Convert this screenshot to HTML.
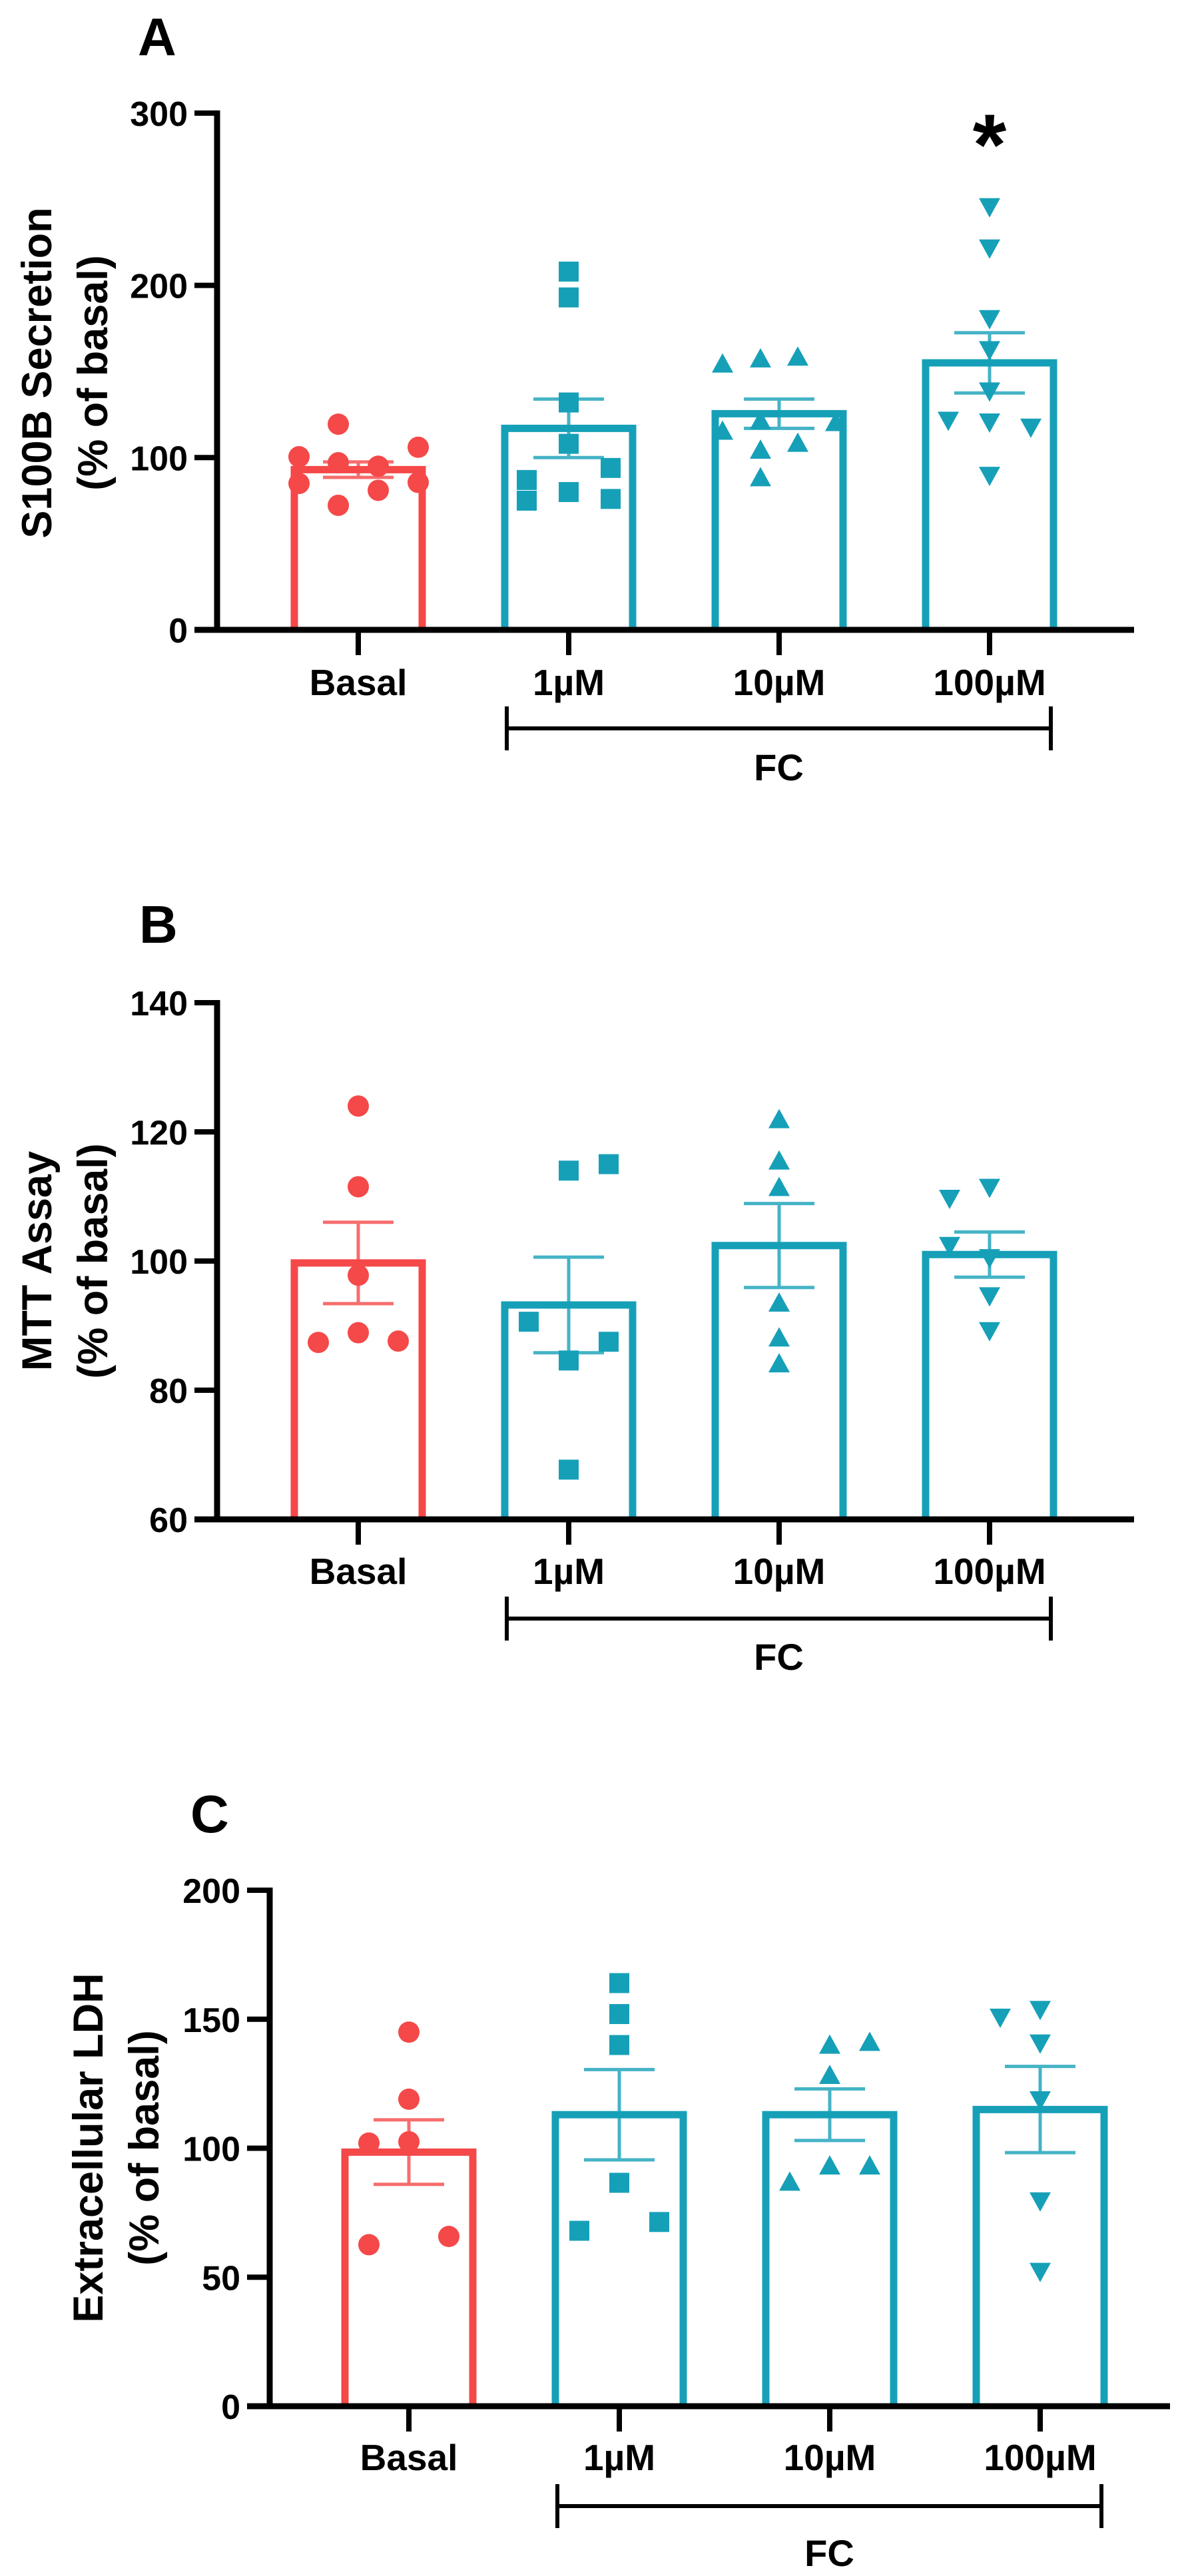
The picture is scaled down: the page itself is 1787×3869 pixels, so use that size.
<!DOCTYPE html>
<html><head><meta charset="utf-8">
<style>
html,body{margin:0;padding:0;background:#fff;}
svg{display:block;}
text{font-family:"Liberation Sans",Arial,sans-serif;font-weight:bold;fill:#000;}
</style></head>
<body>
<svg id="fig" width="1787" height="3869" viewBox="0 0 1787 3869" xmlns="http://www.w3.org/2000/svg"></svg>
<script>
// ---- shared ----
const categories = ["Basal", "1µM", "10µM", "100µM"];
// ---- Panel A: S100B secretion ----
const ticksA = [0, 100, 200, 300];
const meansA = [93, 117, 125.5, 155];
const semA = [4.5, 17, 8.5, 17.5];
const basalA = [119.4, 100.5, 106, 97, 95, 85, 85.6, 81, 72.3];
const fc1A = [208, 193, 132, 108, 87, 94, 75, 80, 76];
const fc10A = [154, 157, 158, 115, 121, 120, 104, 108, 88];
const fc100A = [246, 222, 181, 163, 139, 122, 121, 118, 90];
const jitBasalA = [-30, -89, 90, -30, 30, -89, 90, 30, -30];
const jit1A = [0, 0, 0, 0, -63, 63, -63, 0, 63];
const jit10A = [-85, -28, 28, -85, -28, 85, -28, 28, -28];
const jit100A = [0, 0, 0, 0, 0, -62, 0, 62, 0];
// ---- Panel B: MTT ----
const ticksB = [60, 80, 100, 120, 140];
const meansB = [99.7, 93.2, 102.4, 101];
const semB = [6.3, 7.4, 6.5, 3.5];
const basalB = [124, 111.5, 97.8, 87.4, 88.9, 87.6];
const fc1B = [114, 115, 90.6, 87.5, 84.6, 67.7];
const fc10B = [121.8, 115.4, 111.3, 93.4, 88, 84];
const fc100B = [109.8, 111.5, 102.5, 100.6, 94.7, 89.3];
const jitBasalB = [0, 0, 0, -60, 0, 60];
const jit1B = [0, 60, -60, 60, 0, 0];
const jit10B = [0, 0, 0, 0, 0, 0];
const jit100B = [-60, 0, -60, 0, 0, 0];
// ---- Panel C: LDH ----
const ticksC = [0, 50, 100, 150, 200];
const meansC = [98.5, 113, 113, 115];
const semC = [12.5, 17.5, 10, 16.7];
const basalC = [145, 119, 102, 102.5, 62.6, 65.8];
const fc1C = [164, 152, 140, 86.6, 68, 71.4];
const fc10C = [139.7, 140.8, 128, 86.6, 92.9, 92.9];
const fc100C = [151, 154, 141, 119, 79.8, 52.5];
const jitBasalC = [0, 0, -60, 0, -60, 60];
const jit1C = [0, 0, 0, 0, -60, 60];
const jit10C = [0, 60, 0, -60, 0, 60];
const jit100C = [-60, 0, 0, 0, 0, 0];

const RED = "#F54848", TEAL = "#16A0B8";
const NS = "http://www.w3.org/2000/svg";
const svg = document.getElementById("fig");
function mk(tag, attrs, parent) {
  const e = document.createElementNS(NS, tag);
  for (const k in attrs) e.setAttribute(k, attrs[k]);
  (parent || svg).appendChild(e);
  return e;
}

function panel(cfg) {
  const g = mk("g", {});
  
  
  const y = v => cfg.y0 - (v - cfg.vmin) * cfg.k;
  const x = i => cfg.c0 + i * 316;
  // letter
  const L = mk("text", {x: cfg.letterX, y: cfg.letterY, "font-size": 80}, g);
  L.textContent = cfg.key.toUpperCase();
  
  
  // y title
  const t = mk("text", {transform: `translate(${cfg.titleX},${cfg.titleY}) rotate(-90)`, "text-anchor": "middle", "font-size": 63}, g);
  
  
  const s1 = mk("tspan", {x: 0, y: 22}, t); s1.textContent = cfg.title;
  const s2 = mk("tspan", {x: 0, y: 22 + cfg.lineGap}, t); s2.textContent = "(% of basal)";
  // bars
  cfg.means.forEach((m, i) => {
    const col = i === 0 ? RED : TEAL;
    const top = y(m), bot = y(cfg.vmin);
    const b = mk("path", {d: `M${x(i)-96},${bot} V${top} H${x(i)+96} V${bot}`, fill: "none", stroke: col, "stroke-width": 11}, g);
    
    
  });
  // points
  cfg.points.forEach((arr, i) => {
    const col = i === 0 ? RED : TEAL;
    arr.forEach((v, j) => {
      const cx = x(i) + cfg.jit[i][j], cy = y(v);
      let p;
      if (i === 0) p = mk("circle", {cx, cy, r: 16, fill: col}, g);
      else if (i === 1) p = mk("rect", {x: cx - 15, y: cy - 15, width: 30, height: 30, fill: col}, g);
      else if (i === 2) p = mk("path", {d: `M${cx},${cy-17} L${cx+16},${cy+12} L${cx-16},${cy+12}Z`, fill: col}, g);
      else p = mk("path", {d: `M${cx},${cy+17} L${cx+16},${cy-12} L${cx-16},${cy-12}Z`, fill: col}, g);
      
      
    });
  });
  // error bars
  cfg.means.forEach((m, i) => {
    const col = i === 0 ? RED : TEAL;
    const hi = y(m + cfg.sem[i]), lo = y(m - cfg.sem[i]);
    const e = mk("path", {d: `M${x(i)-53},${hi} H${x(i)+53} M${x(i)},${hi} V${lo} M${x(i)-53},${lo} H${x(i)+53}`, stroke: col, "stroke-opacity": 0.8, "stroke-width": 5, fill: "none"}, g);
    
    
  });
  // axes
  const ax = cfg.axisX, bot = y(cfg.vmin);
  const ya = mk("line", {x1: ax, y1: y(cfg.ticks[cfg.ticks.length-1]) - 4, x2: ax, y2: bot + 4, stroke: "#000", "stroke-width": 9}, g);
  
  
  const xa = mk("line", {x1: ax - 34, y1: bot, x2: cfg.axisEnd, y2: bot, stroke: "#000", "stroke-width": 9}, g);
  
  
  cfg.ticks.forEach(tv => {
    const ty = y(tv);
    mk("line", {x1: ax - 34, y1: ty, x2: ax, y2: ty, stroke: "#000", "stroke-width": 8}, g);
    const tl = mk("text", {x: ax - 44, y: ty + 19, "text-anchor": "end", "font-size": 52}, g);
    tl.textContent = tv;
    
    
  });
  categories.forEach((c, i) => {
    mk("line", {x1: x(i), y1: bot, x2: x(i), y2: bot + 38, stroke: "#000", "stroke-width": 8}, g);
    const tl = mk("text", {x: x(i), y: bot + cfg.labDy, "text-anchor": "middle", "font-size": 55}, g);
    tl.textContent = c;
    
    
  });
  // bracket
  const by = bot + cfg.brDy, bx1 = x(1) - 93, bx2 = x(3) + 92;
  const br = mk("path", {d: `M${bx1},${by-33} V${by+33} M${bx1},${by} H${bx2} M${bx2},${by-33} V${by+33}`, stroke: "#000", "stroke-width": 6, fill: "none"}, g);
  
  
  const fc = mk("text", {x: (bx1 + bx2) / 2, y: bot + cfg.fcDy, "text-anchor": "middle", "font-size": 56}, g);
  fc.textContent = "FC";
  
  
  return {x, y, g};
}

const A = panel({key: "a", y0: 946, vmin: 0, k: 2.587, c0: 538, axisX: 326, axisEnd: 1703,
  ticks: ticksA, means: meansA, sem: semA, points: [basalA, fc1A, fc10A, fc100A],
  jit: [jitBasalA, jit1A, jit10A, jit100A], title: "S100B Secretion", titleX: 55, titleY: 560, lineGap: 84,
  letterX: 207, letterY: 83, labDy: 98, brDy: 148, fcDy: 226});
const star = mk("text", {x: A.x(3), y: 262, "text-anchor": "middle", "font-size": 130}, A.g);
star.textContent = "*";



panel({key: "b", y0: 2282, vmin: 60, k: 9.7, c0: 538, axisX: 326, axisEnd: 1703,
  ticks: ticksB, means: meansB, sem: semB, points: [basalB, fc1B, fc10B, fc100B],
  jit: [jitBasalB, jit1B, jit10B, jit100B], title: "MTT Assay", titleX: 55, titleY: 1894, lineGap: 84,
  letterX: 209, letterY: 1416, labDy: 97, brDy: 149, fcDy: 226});

panel({key: "c", y0: 3614, vmin: 0, k: 3.875, c0: 614, axisX: 405, axisEnd: 1757,
  ticks: ticksC, means: meansC, sem: semC, points: [basalC, fc1C, fc10C, fc100C],
  jit: [jitBasalC, jit1C, jit10C, jit100C], title: "Extracellular LDH", titleX: 132, titleY: 3226, lineGap: 84,
  letterX: 286, letterY: 2752, labDy: 96, brDy: 150, fcDy: 240});
</script>
</body></html>
